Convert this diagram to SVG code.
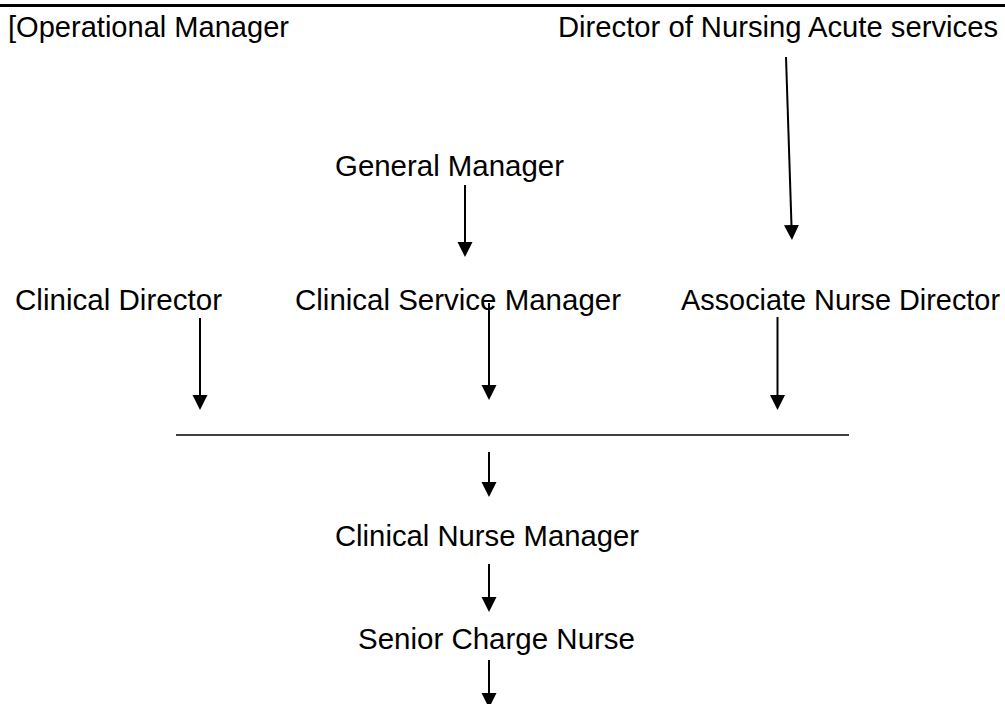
<svg xmlns="http://www.w3.org/2000/svg" width="1005" height="704" viewBox="0 0 1005 704">
<style>
.t{font-family:"Liberation Sans",Arial,sans-serif;font-size:29px;fill:#000}
.c{stroke:#000;stroke-width:2;fill:none}
</style>
<defs>
<marker id="ah" markerUnits="userSpaceOnUse" markerWidth="16" markerHeight="16" refX="7" refY="7.5" orient="auto">
<path d="M0,0 L15,7.5 L0,15 z" fill="#000"/>
</marker>
</defs>
<rect width="1005" height="704" fill="#fff"/>
<line x1="0" y1="5.5" x2="1005" y2="5.5" stroke="#000" stroke-width="3"/>
<g id="operational-manager"><text class="t" x="8" y="37" textLength="281" lengthAdjust="spacingAndGlyphs">[Operational Manager</text></g>
<g id="director-nursing"><text class="t" x="558" y="37" textLength="440" lengthAdjust="spacingAndGlyphs">Director of Nursing Acute services</text></g>
<g id="general-manager"><text class="t" x="335" y="176" textLength="229" lengthAdjust="spacingAndGlyphs">General Manager</text></g>
<g id="clinical-director"><text class="t" x="15" y="310" textLength="207" lengthAdjust="spacingAndGlyphs">Clinical Director</text></g>
<g id="clinical-service-manager"><text class="t" x="295" y="310" textLength="326" lengthAdjust="spacingAndGlyphs">Clinical Service Manager</text></g>
<g id="associate-nurse-director"><text class="t" x="681" y="310" textLength="319" lengthAdjust="spacingAndGlyphs">Associate Nurse Director</text></g>
<g id="clinical-nurse-manager"><text class="t" x="335" y="546" textLength="304" lengthAdjust="spacingAndGlyphs">Clinical Nurse Manager</text></g>
<g id="senior-charge-nurse"><text class="t" x="358" y="649" textLength="277" lengthAdjust="spacingAndGlyphs">Senior Charge Nurse</text></g>
<g id="connectors">
<line class="c" x1="786" y1="57" x2="791.7" y2="232" marker-end="url(#ah)"/>
<line class="c" x1="465" y1="185" x2="465" y2="249" marker-end="url(#ah)"/>
<line class="c" x1="200" y1="318" x2="200" y2="402" marker-end="url(#ah)"/>
<line class="c" x1="489" y1="303" x2="489" y2="392" marker-end="url(#ah)"/>
<line class="c" x1="777.5" y1="317" x2="777.5" y2="402" marker-end="url(#ah)"/>
<line x1="176" y1="435" x2="849" y2="435" stroke="#000" stroke-width="1.5"/>
<line class="c" x1="489" y1="452" x2="489" y2="489" marker-end="url(#ah)"/>
<line class="c" x1="489" y1="564" x2="489" y2="604" marker-end="url(#ah)"/>
<line class="c" x1="489" y1="660" x2="489" y2="700" marker-end="url(#ah)"/>
</g>
</svg>
